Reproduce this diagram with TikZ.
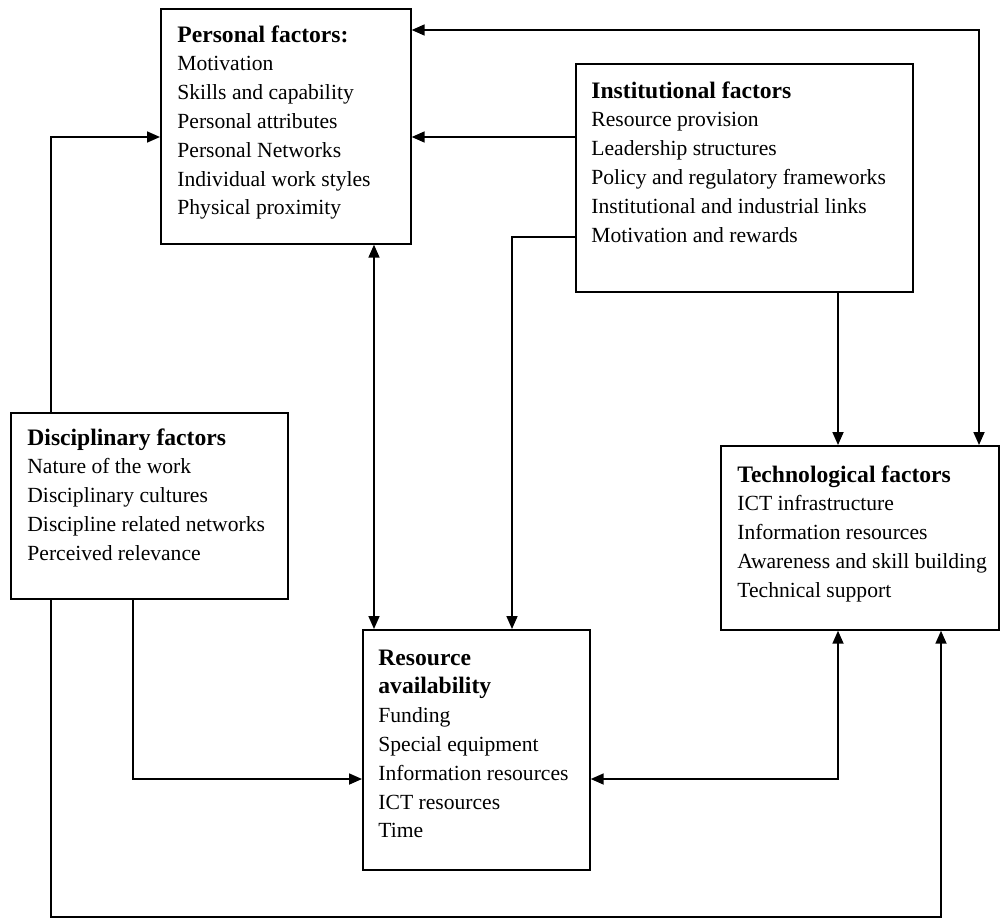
\documentclass[tikz,border=0pt]{standalone}
\usepackage{fontspec}
\setmainfont{Liberation Serif}
\usetikzlibrary{arrows.meta}

% heading + item list, first baseline = node baseline
\newcommand{\factorlist}[2]{%
  \begin{tabular}[t]{@{}l@{}}
    {\fontsize{11.8}{14.4}\selectfont\bfseries #1}\\
    #2
  \end{tabular}}

\begin{document}
\begin{tikzpicture}[x=0.5pt,y=-0.5pt,
  box/.style={draw, line width=0.85pt, inner sep=0pt, anchor=north west},
  txt/.style={anchor=base west, inner sep=0pt,
              font=\fontsize{10.8}{14.4}\selectfont},
  link/.style={line width=0.85pt},
  tip/.style={-{Triangle[length=6.5pt,width=5.5pt]}},
  tipboth/.style={{Triangle[length=6.5pt,width=5.5pt]}-{Triangle[length=6.5pt,width=5.5pt]}}]

\useasboundingbox (0,0) rectangle (1000,921);

% ---- boxes ----
\node[box, minimum width=125pt,   minimum height=117.5pt] (pers) at (160,8)   {};
\node[box, minimum width=168.5pt, minimum height=114pt]   (inst) at (575,63)  {};
\node[box, minimum width=138.5pt, minimum height=93pt]    (disc) at (10,412)  {};
\node[box, minimum width=139pt,   minimum height=92pt]    (tech) at (720,445) {};
\node[box, minimum width=113.5pt, minimum height=120pt]   (res)  at (362,629) {};

% ---- box texts ----
\node[txt] (perstxt) at ([shift={(17,34)}]pers.north west)
  {\factorlist{Personal factors:}{Motivation\\ Skills and capability\\ Personal attributes\\ Personal Networks\\ Individual work styles\\ Physical proximity}};
\node[txt] (insttxt) at ([shift={(16,35)}]inst.north west)
  {\factorlist{Institutional factors}{Resource provision\\ Leadership structures\\ Policy and regulatory frameworks\\ Institutional and industrial links\\ Motivation and rewards}};
\node[txt] (disctxt) at ([shift={(17,33)}]disc.north west)
  {\factorlist{Disciplinary factors}{Nature of the work\\ Disciplinary cultures\\ Discipline related networks\\ Perceived relevance}};
\node[txt] (techtxt) at ([shift={(17,37)}]tech.north west)
  {\factorlist{Technological factors}{ICT infrastructure\\ Information resources\\ Awareness and skill building\\ Technical support}};
\node[txt] (restxt) at ([shift={(16,36)}]res.north west)
  {\factorlist{Resource}{{\fontsize{11.8}{14.4}\selectfont\bfseries availability}\\ Funding\\ Special equipment\\ Information resources\\ ICT resources\\ Time}};

% ---- routing points ----
\coordinate (topR) at (979,30);
\coordinate (yA)   at (0,137);
\coordinate (xD)   at (51,0);
\coordinate (xP)   at (374,0);
\coordinate (iR)   at (512,237);
\coordinate (xT)   at (838,0);
\coordinate (dR)   at (133,779);
\coordinate (rT)   at (838,779);
\coordinate (bL)   at (51,917);
\coordinate (bR)   at (941,917);

% ---- connectors ----
\draw[link, tipboth] (pers.east |- topR) -- (topR) -- (topR |- tech.north);
\draw[link, tip] (inst.west |- yA) -- (pers.east |- yA);
\draw[link, tip] (xD |- disc.north) -- (xD |- yA) -- (pers.west |- yA);
\draw[link, tipboth] (xP |- pers.south) -- (xP |- res.north);
\draw[link, tip] (inst.west |- iR) -- (iR) -- (iR |- res.north);
\draw[link, tip] (xT |- inst.south) -- (xT |- tech.north);
\draw[link, tip] (dR |- disc.south) -- (dR) -- (res.west |- dR);
\draw[link, tipboth] (res.east |- rT) -- (rT) -- (rT |- tech.south);
\draw[link, tip] (bL |- disc.south) -- (bL) -- (bR) -- (bR |- tech.south);

\end{tikzpicture}
\end{document}
